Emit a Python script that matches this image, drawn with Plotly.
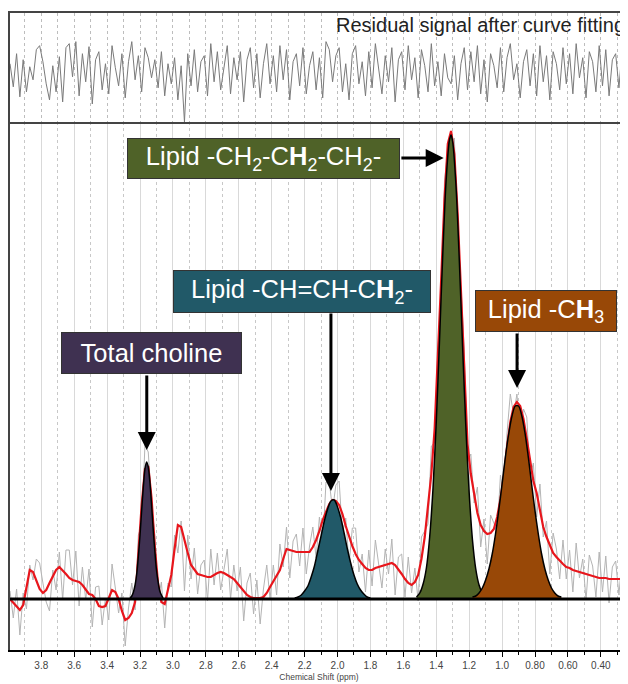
import numpy as np
import plotly.graph_objects as go

# ---------------- data ----------------
PPM_START = 3.99
PPM_STEP = 0.02

# fitted curve (red), intensity in arbitrary units above the baseline
FIT = [0, -4, -8, -11, -6, 10, 29, 27, 18, 10,
       6, 9, 16, 23, 29, 32, 29, 25, 21, 19,
       18, 17, 14, 9, 5, 4, 0, -7, -8, -7,
       1, 9, 7, 0, -12, -21, -19, -14, -3, 48,
       94, 130, 133, 101, 52, 15, -3, -5, 8, 24,
       50, 74, 72, 58, 46, 34, 29, 25, 24, 23,
       22, 22, 24, 26, 27, 26, 24, 22, 20, 16,
       12, 8, 4, 2, 1, 1, 1, 2, 6, 12,
       18, 24, 29, 40, 50, 49, 48, 47, 47, 47,
       47, 47, 52, 59, 68, 79, 87, 95, 99, 98,
       94, 85, 73, 62, 53, 45, 39, 35, 31, 29,
       29, 31, 32, 33, 34, 35, 36, 34, 30, 25,
       20, 16, 14, 17, 24, 40, 62, 95, 125, 170,
       240, 320, 400, 455, 468, 445, 385, 305, 225, 155,
       125, 106, 86, 74, 68, 65, 66, 70, 82, 100,
       122, 152, 177, 192, 197, 193, 180, 160, 137, 118,
       106, 89, 72, 62, 53, 46, 42, 38, 35, 32,
       31, 29, 28, 27, 26, 25, 24, 23, 22, 21,
       21, 21, 20, 20, 20, 20, 20, 20, 20]

# residual signal after curve fitting (raw - fit)
RESIDUAL = [8, -15, 18, -25, 12, -20, 5, -8, 22, 26,
            10, -12, -28, 6, -20, 15, -30, 24, 28, -5,
            30, -24, 18, -10, 25, -32, 12, 20, -18, 8,
            -22, 26, 4, -14, 18, -26, 10, 30, -8, 16,
            -20, 24, 14, -6, 12, -16, 20, -24, 8, -12,
            14, -28, 6, -50, 18, -14, 22, -20, 10, 16,
            -24, 28, -10, 20, -18, 6, 26, -22, 14, -8,
            20, -30, 12, 24, -16, 18, -26, 8, 28, -12,
            16, -20, 26, -8, 22, -28, 10, 18, -14, 24,
            -22, 6, 20, -18, 14, -26, 30, 22, -10, 16,
            24, -20, 8, -28, 18, 26, -12, 10, -24, 20,
            -16, 28, 4, -22, 16, -10, 24, -30, 12, 20,
            -18, 26, -8, 14, -26, 22, 6, -20, 28, -14,
            10, -24, 18, -6, -12, 16, -28, 8, 24, -18,
            20, -10, 26, -22, 12, -30, 18, 6, -16, 24,
            -20, 14, 28, -8, 8, -26, 10, 22, -14, 18,
            -24, 26, -10, 16, -28, 20, 8, -18, 24, -12,
            18, -22, 28, -6, 14, -26, 20, 10, -20, 26,
            -14, 22, -24, 12, 18, -16, 24, -10, 14]

# fitted component peaks
CHOLINE_PPM = [3.26, 3.25, 3.24, 3.23, 3.22, 3.21, 3.20, 3.19, 3.18, 3.17, 3.16,
               3.15, 3.14, 3.13, 3.12, 3.11, 3.10, 3.09, 3.08, 3.07, 3.06]
CHOLINE_VAL = [1, 3, 7, 14, 25, 43, 64, 89, 112, 130, 137,
               132, 117, 95, 70, 48, 29, 17, 8, 4, 1]

OLEFIN_PPM = [2.26, 2.24, 2.22, 2.20, 2.18, 2.16, 2.14, 2.12, 2.10, 2.08, 2.06, 2.04,
              2.02, 2.00, 1.98, 1.96, 1.94, 1.92, 1.90, 1.88, 1.86, 1.84, 1.82, 1.80]
OLEFIN_VAL = [1, 2, 4, 8, 13, 22, 33, 48, 63, 78, 90, 98,
              99, 92, 81, 66, 50, 36, 24, 15, 9, 5, 2, 1]

METHYLENE_PPM = [1.52, 1.50, 1.48, 1.46, 1.44, 1.42, 1.40, 1.38, 1.36, 1.34, 1.32, 1.31,
                 1.30, 1.28, 1.26, 1.24, 1.22, 1.20, 1.18, 1.16, 1.14, 1.12, 1.10]
METHYLENE_VAL = [2, 6, 15, 31, 62, 110, 177, 260, 347, 419, 459, 464,
                 457, 413, 339, 252, 171, 106, 59, 30, 14, 6, 2]

METHYL_PPM = [1.18, 1.16, 1.14, 1.12, 1.10, 1.08, 1.06, 1.04, 1.02, 1.00, 0.98, 0.96,
              0.94, 0.92, 0.90, 0.88, 0.86, 0.84, 0.82, 0.80, 0.78, 0.76, 0.74, 0.72,
              0.70, 0.68, 0.66, 0.64]
METHYL_VAL = [2, 3, 6, 11, 19, 30, 45, 65, 89, 115, 142, 165,
              183, 193, 193, 183, 165, 141, 114, 88, 65, 45, 30, 19,
              11, 6, 3, 2]

TICK_VALS = [3.8, 3.6, 3.4, 3.2, 3.0, 2.8, 2.6, 2.4, 2.2, 2.0, 1.8, 1.6, 1.4, 1.2, 1.0, 0.8, 0.6, 0.4]
TICK_TEXT = ["3.8", "3.6", "3.4", "3.2", "3.0", "2.8", "2.6", "2.4", "2.2", "2.0",
             "1.8", "1.6", "1.4", "1.2", "1.0", "0.80", "0.60", "0.40"]

# ---------------- build ----------------
ppm = np.round(PPM_START - PPM_STEP * np.arange(len(FIT)), 3)
fit = np.array(FIT, dtype=float)
resid = np.array(RESIDUAL, dtype=float)
raw = fit + resid   # measured spectrum = fit + residual

C_PURPLE = "#3f3151"
C_TEAL = "#215968"
C_GREEN = "#4f6228"
C_ORANGE = "#984807"

fig = go.Figure()
fig.add_trace(go.Scatter(x=ppm, y=raw, mode="lines", line=dict(color="#b4b4b4", width=1),
                         xaxis="x", yaxis="y", hoverinfo="skip"))
fig.add_trace(go.Scatter(x=ppm, y=fit, mode="lines", line=dict(color="#e8161c", width=2.2),
                         xaxis="x", yaxis="y"))
for px, pv, col in [(CHOLINE_PPM, CHOLINE_VAL, C_PURPLE), (OLEFIN_PPM, OLEFIN_VAL, C_TEAL),
                    (METHYLENE_PPM, METHYLENE_VAL, C_GREEN), (METHYL_PPM, METHYL_VAL, C_ORANGE)]:
    fig.add_trace(go.Scatter(x=px, y=pv, mode="lines", fill="tozeroy", fillcolor=col,
                             line=dict(color="black", width=1.5, shape="spline", smoothing=0.8),
                             xaxis="x", yaxis="y"))
fig.add_trace(go.Scatter(x=ppm, y=resid, mode="lines", line=dict(color="#7a7a7a", width=1),
                         xaxis="x2", yaxis="y2"))

FONT = "Liberation Sans, Arial, Helvetica, sans-serif"

# label boxes: (text, colour, centre ppm, centre intensity, width px, height px)
BOXES = [
    ("Lipid -CH<sub>2</sub>-C<b>H</b><sub>2</sub>-CH<sub>2</sub>-", C_GREEN, 2.45, 441, 273, 41),
    ("Lipid -CH=CH-C<b>H</b><sub>2</sub>-", C_TEAL, 2.216, 308, 258, 43),
    ("Lipid -C<b>H</b><sub>3</sub>", C_ORANGE, 0.733, 288, 142, 42),
    ("Total choline", C_PURPLE, 3.131, 246, 181, 42),
]
annotations = []
for text, col, bx, by, w, h in BOXES:
    annotations.append(dict(x=bx, y=by, xref="x", yref="y", text=text, showarrow=False,
                            xanchor="center", yanchor="middle", width=w - 2, height=h - 2,
                            bgcolor=col, bordercolor="#333333", borderwidth=1, borderpad=0,
                            font=dict(family=FONT, size=25.5, color="white")))
# arrows: (tail ppm, tail y, tip ppm, tip y)
ARROWS = [(1.621, 441, 1.355, 441), (2.04, 287, 2.04, 108),
          (0.909, 267, 0.909, 211), (3.159, 225, 3.159, 149)]
for ax_, ay_, x_, y_ in ARROWS:
    annotations.append(dict(x=x_, y=y_, ax=ax_, ay=ay_, xref="x", yref="y", axref="x", ayref="y",
                            text="", showarrow=True, arrowhead=2, arrowsize=1.2, arrowwidth=3,
                            arrowcolor="black", standoff=0, startstandoff=0))
annotations.append(dict(x=1.0, y=1.0, xref="paper", yref="paper", xanchor="right", yanchor="top",
                        yshift=1, xshift=-1, text="Residual signal after curve fitting",
                        showarrow=False, font=dict(family=FONT, size=20, color="#222222")))

# page body has an 8px margin: figure is sized so it ends at the window edge
W, H = 620, 676
ML, MT, MB = 2, 5, 34
split = (H - MB - (122 - 8)) / (H - MT - MB)

fig.update_layout(
    width=W, height=H,
    margin=dict(l=ML, r=0, t=MT, b=MB, autoexpand=False),
    paper_bgcolor="white", plot_bgcolor="white",
    showlegend=False,
    font=dict(family=FONT, color="#333333"),
    xaxis=dict(range=[3.99, 0.235], domain=[0, 1], anchor="y",
               tickmode="array", tickvals=TICK_VALS, ticktext=TICK_TEXT,
               ticks="outside", ticklen=5, tickwidth=1.2, tickcolor="black",
               tickfont=dict(size=10, color="#444444"),
               showline=True, linecolor="black", linewidth=1.5,
               showgrid=True, gridcolor="#d9d9d9", gridwidth=1,
               zeroline=False,
               minor=dict(dtick=0.1, tick0=0, ticks="outside", ticklen=3, tickcolor="black",
                          showgrid=True, gridcolor="#c8c8c8", griddash="dot", gridwidth=1),
               title=dict(text="Chemical Shift (ppm)", font=dict(size=8.5, color="#444444"),
                          standoff=4)),
    yaxis=dict(range=[-51, 477], domain=[0, split], anchor="x",
               showticklabels=False, ticks="", showgrid=False, zeroline=False,
               showline=True, linecolor="#444444", linewidth=1.5),
    xaxis2=dict(matches="x", anchor="y2", domain=[0, 1], showticklabels=False, ticks="",
                tickmode="linear", tick0=0, dtick=0.1,
                showgrid=True, gridcolor="#bdbdbd", griddash="dot",
                showline=True, mirror=True, linecolor="#444444", linewidth=2, zeroline=False),
    yaxis2=dict(range=[-50, 58.5], domain=[split, 1], anchor="x2",
                showticklabels=False, ticks="", showgrid=False, zeroline=False,
                showline=True, linecolor="#444444", linewidth=2),
    annotations=annotations,
    shapes=[dict(type="line", xref="x domain", yref="y", x0=0, x1=1, y0=0, y1=0,
                 line=dict(color="black", width=3), layer="above")],
)

fig.write_html("out.html")
